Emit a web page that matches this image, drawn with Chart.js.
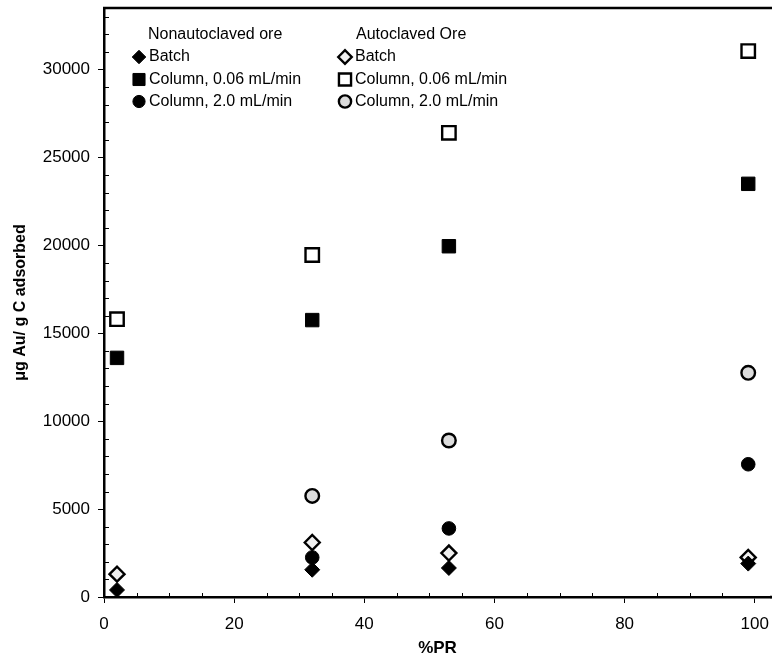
<!DOCTYPE html>
<html>
<head>
<meta charset="utf-8">
<script src="https://cdn.jsdelivr.net/npm/chart.js@4/dist/chart.umd.min.js"></script>
<style>
  html, body { margin: 0; padding: 0; background: #fff; }
  canvas { display: block; }
</style>
</head>
<body>
<canvas id="chart" width="772" height="659"></canvas>
<script>
// %PR of each ore sample
const pctPR = [2, 32, 53, 99];

// ug Au / g C adsorbed
const nonautoBatch = [400, 1550, 1650, 1900];
const nonautoCol006 = [13600, 15750, 19950, 23500];
const nonautoCol20 = [null, 2250, 3900, 7550];
const autoBatch = [1300, 3100, 2500, 2250];
const autoCol006 = [15800, 19450, 26400, 31050];
const autoCol20 = [null, 5750, 8900, 12750];

const xTicks = [0, 20, 40, 60, 80, 100];
const yTicks = [0, 5000, 10000, 15000, 20000, 25000, 30000];

const groupHeaders = ['Nonautoclaved ore', 'Autoclaved Ore'];
const seriesLabels = ['Batch', 'Column, 0.06 mL/min', 'Column, 2.0 mL/min'];

function toPoints(values) {
  const pts = [];
  values.forEach((v, i) => {
    if (v !== null) pts.push({ x: pctPR[i], y: v });
  });
  return pts;
}

const markers = {
  diamond: { pointStyle: 'rectRot', pointRadius: 7.5 },
  square: { pointStyle: 'rect', pointRadius: 9.5 },
  circle: { pointStyle: 'circle', pointRadius: 6.8 }
};

function series(label, values, shape, fill, open) {
  return Object.assign({
    label: label,
    data: toPoints(values),
    backgroundColor: fill,
    borderColor: '#000',
    borderWidth: open ? 2.4 : 1
  }, markers[shape]);
}

const datasets = [
  series('Batch', nonautoBatch, 'diamond', '#000', false),
  series('Column, 0.06 mL/min', nonautoCol006, 'square', '#000', false),
  series('Column, 2.0 mL/min', nonautoCol20, 'circle', '#000', false),
  series('Batch', autoBatch, 'diamond', '#f0f0f0', true),
  series('Column, 0.06 mL/min', autoCol006, 'square', '#fff', true),
  series('Column, 2.0 mL/min', autoCol20, 'circle', '#dcdcdc', true)
];

// minor ticks, top frame line and the two-column legend
const extras = {
  id: 'extras',
  afterDraw(chart) {
    const ctx = chart.ctx;
    const area = chart.chartArea;
    const xs = chart.scales.x;
    const ys = chart.scales.y;
    ctx.save();
    ctx.strokeStyle = '#000';
    ctx.lineWidth = 1;
    ctx.beginPath();
    for (let v = 1000; v < ys.max; v += 1000) {
      if (v % 5000 === 0) continue;
      const y = Math.round(ys.getPixelForValue(v)) + 0.5;
      ctx.moveTo(area.left, y);
      ctx.lineTo(area.left + 5, y);
    }
    for (let v = 5; v <= 100; v += 5) {
      if (v % 20 === 0) continue;
      const x = Math.round(xs.getPixelForValue(v)) + 0.5;
      ctx.moveTo(x, area.bottom);
      ctx.lineTo(x, area.bottom - 4);
    }
    ctx.stroke();

    ctx.lineWidth = 2.5;
    ctx.beginPath();
    ctx.moveTo(area.left - 1, area.top);
    ctx.lineTo(chart.width, area.top);
    ctx.moveTo(area.right - 1, area.bottom);
    ctx.lineTo(chart.width, area.bottom);
    ctx.stroke();

    // legend
    ctx.font = '16px "Liberation Sans", Arial, sans-serif';
    ctx.textBaseline = 'middle';
    const cols = [{ head: 148, text: 149, mark: 139 }, { head: 356, text: 355, mark: 345 }];
    const rowY = [35, 57, 79.5, 101.5];
    cols.forEach((c, ci) => {
      ctx.fillStyle = '#000';
      ctx.fillText(groupHeaders[ci], c.head, rowY[0]);
      seriesLabels.forEach((lab, ri) => {
        const ds = datasets[ci * 3 + ri];
        ctx.fillStyle = '#000';
        ctx.fillText(lab, c.text, rowY[ri + 1]);
        ctx.fillStyle = ds.backgroundColor;
        ctx.strokeStyle = '#000';
        ctx.lineWidth = ds.borderWidth;
        Chart.helpers.drawPoint(ctx, {
          pointStyle: ds.pointStyle,
          radius: ds.pointRadius * 0.9,
          borderWidth: ds.borderWidth,
          rotation: 0
        }, c.mark, rowY[ri + 1]);
      });
    });
    ctx.restore();
  }
};

const tickFont = { family: '"Liberation Sans", Arial, sans-serif', size: 17 };

new Chart(document.getElementById('chart'), {
  type: 'scatter',
  data: { datasets: datasets },
  options: {
    responsive: false,
    animation: false,
    devicePixelRatio: 1,
    layout: { autoPadding: false, padding: { top: 8, right: 1, left: 0, bottom: 0 } },
    plugins: { legend: { display: false }, tooltip: { enabled: false } },
    scales: {
      x: {
        type: 'linear',
        min: 0,
        max: 102.5,
        afterBuildTicks: s => { s.ticks = xTicks.map(v => ({ value: v })); },
        afterFit: s => { s.height = 62; s.paddingLeft = 0; s.paddingRight = 0; },
        ticks: { color: '#000', font: tickFont, padding: 11, maxRotation: 0, callback: v => String(v) },
        grid: { drawOnChartArea: false, color: '#000', tickLength: 6, lineWidth: 1 },
        border: { color: '#000', width: 2.5 },
        title: {
          display: true,
          text: '%PR',
          color: '#000',
          font: { family: '"Liberation Sans", Arial, sans-serif', size: 17, weight: 'bold' },
          padding: { top: 0, bottom: 0 }
        }
      },
      y: {
        type: 'linear',
        min: 0,
        max: 33500,
        afterBuildTicks: s => { s.ticks = yTicks.map(v => ({ value: v })); },
        afterFit: s => { s.width = 104; s.paddingTop = 0; s.paddingBottom = 0; },
        ticks: { color: '#000', font: tickFont, padding: 8, callback: v => String(v) },
        grid: { drawOnChartArea: false, color: '#000', tickLength: 6, lineWidth: 1 },
        border: { color: '#000', width: 2.5 },
        title: {
          display: true,
          text: 'μg Au/ g C adsorbed',
          color: '#000',
          font: { family: '"Liberation Sans", Arial, sans-serif', size: 16, weight: 'bold' },
          padding: { top: 11, bottom: 0 }
        }
      }
    }
  },
  plugins: [extras]
});
</script>
</body>
</html>
